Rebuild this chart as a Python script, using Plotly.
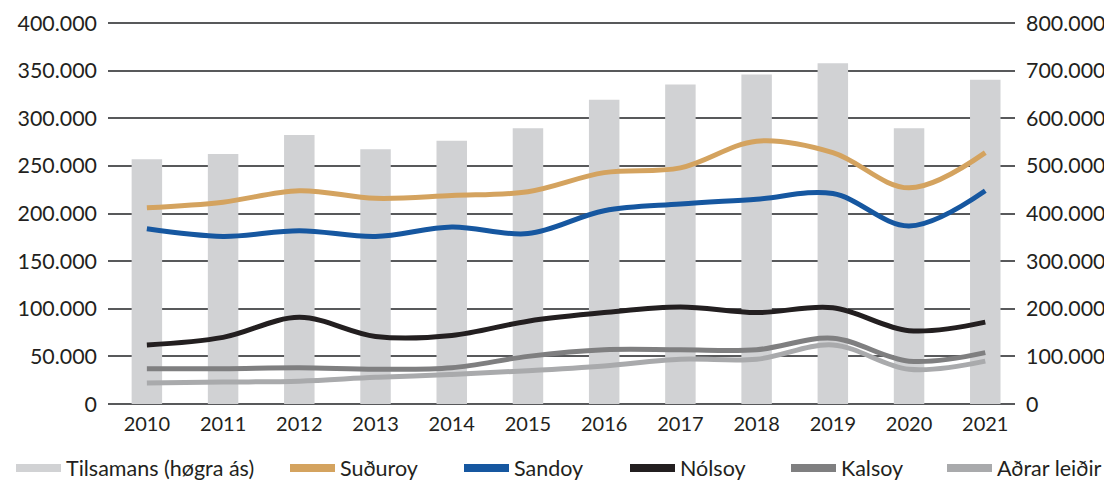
import plotly.graph_objects as go

years = ["2010", "2011", "2012", "2013", "2014", "2015", "2016", "2017", "2018", "2019", "2020", "2021"]
tilsamans = [514000, 525000, 565000, 535000, 553000, 579000, 639000, 671000, 692000, 716000, 579000, 681000]
suduroy = [206000, 212000, 224000, 216000, 219000, 223000, 243000, 248000, 276000, 264000, 227000, 264000]
sandoy = [184000, 176000, 182000, 176000, 186000, 179000, 203000, 210000, 215000, 221000, 187000, 224000]
nolsoy = [62000, 70000, 91000, 71000, 72000, 87000, 96000, 102000, 96000, 101000, 77000, 86000]
kalsoy = [37000, 37000, 38000, 36500, 38000, 50000, 57000, 57000, 57000, 69000, 45000, 54000]
adrar = [22000, 23000, 24000, 28000, 31000, 35000, 40000, 47000, 47000, 62000, 36500, 45000]

left_ticks = [0, 50000, 100000, 150000, 200000, 250000, 300000, 350000, 400000]
right_ticks = [0, 100000, 200000, 300000, 400000, 500000, 600000, 700000, 800000]

FONT = "Lato"
TXT = "#231f20"
BAR = "#d1d2d4"
GRID = "#58595b"

# page has an 8px body margin; figure sized to fit the 1112x487 window
OFF = 8
W, H = 1112 - OFF, 487 - OFF
L, T = 108 - OFF, 22 - OFF
PH = 382
B = H - T - PH
R = W - (1015 - OFF)
PW = W - L - R

fig = go.Figure()

# bars on the base (right) axis so that the lines are drawn above them
fig.add_trace(go.Bar(x=years, y=tilsamans, yaxis="y", marker=dict(color=BAR, line=dict(width=0)),
                     width=0.4, showlegend=False, name="Tilsamans (høgra ás)"))

series = [
    ("Suðuroy", suduroy, "#d4a35f"),
    ("Sandoy", sandoy, "#1657a0"),
    ("Nólsoy", nolsoy, "#231f20"),
    ("Kalsoy", kalsoy, "#7f7f80"),
    ("Aðrar leiðir", adrar, "#a9aaac"),
]
for name, vals, col in series:
    fig.add_trace(go.Scatter(x=years, y=vals, yaxis="y2", mode="lines", name=name, showlegend=False,
                             line=dict(color=col, width=5, shape="spline", smoothing=1.0)))

# legend entries (one legend per entry, placed like the reference)
legend_items = [("Tilsamans (høgra ás)", BAR)] + [(n, c) for n, _, c in series]
legend_px = [14, 288, 462, 628, 789, 945]
legend_layouts = {}
for i, ((name, col), px) in enumerate(zip(legend_items, legend_px)):
    key = "legend" if i == 0 else f"legend{i + 1}"
    fig.add_trace(go.Scatter(x=[None], y=[None], yaxis="y2", mode="lines", name=name,
                             legend=key, showlegend=True, line=dict(color=col, width=8)))
    legend_layouts[key] = dict(
        x=(px - OFF - 3 - L) / PW, xanchor="left",
        y=(H - B - (468 - OFF)) / PH, yanchor="middle",
        orientation="h", font=dict(family=FONT, size=21.5, color=TXT), itemwidth=45,
        bgcolor="rgba(0,0,0,0)", borderwidth=0,
    )

fig.update_layout(
    width=W, height=H,
    margin=dict(l=L, r=R, t=T, b=B, autoexpand=False),
    paper_bgcolor="white", plot_bgcolor="white",
    separators=",.",
    font=dict(family=FONT, size=20, color=TXT),
    barmode="overlay",
    showlegend=True,
    xaxis=dict(type="category", range=[-0.51, 11.39], showgrid=False, showline=False,
               zeroline=False, ticks="", tickfont=dict(size=20, color=TXT), ticklabelstandoff=6),
    yaxis=dict(range=[0, 800000 * 1.003], tickvals=right_ticks, tickformat=",d", side="right",
               showgrid=True, gridcolor=GRID, gridwidth=2, zeroline=True, zerolinecolor=GRID,
               zerolinewidth=2, showline=False, ticks="", ticklabelstandoff=10,
               tickfont=dict(size=21.4, color=TXT)),
    yaxis2=dict(range=[0, 400000 * 1.003], tickvals=left_ticks, tickformat=",d", overlaying="y",
                side="left", showgrid=False, zeroline=False, showline=False, ticks="",
                ticklabelstandoff=10, tickfont=dict(size=21.4, color=TXT)),
    **legend_layouts,
)

fig.write_html("out.html")
